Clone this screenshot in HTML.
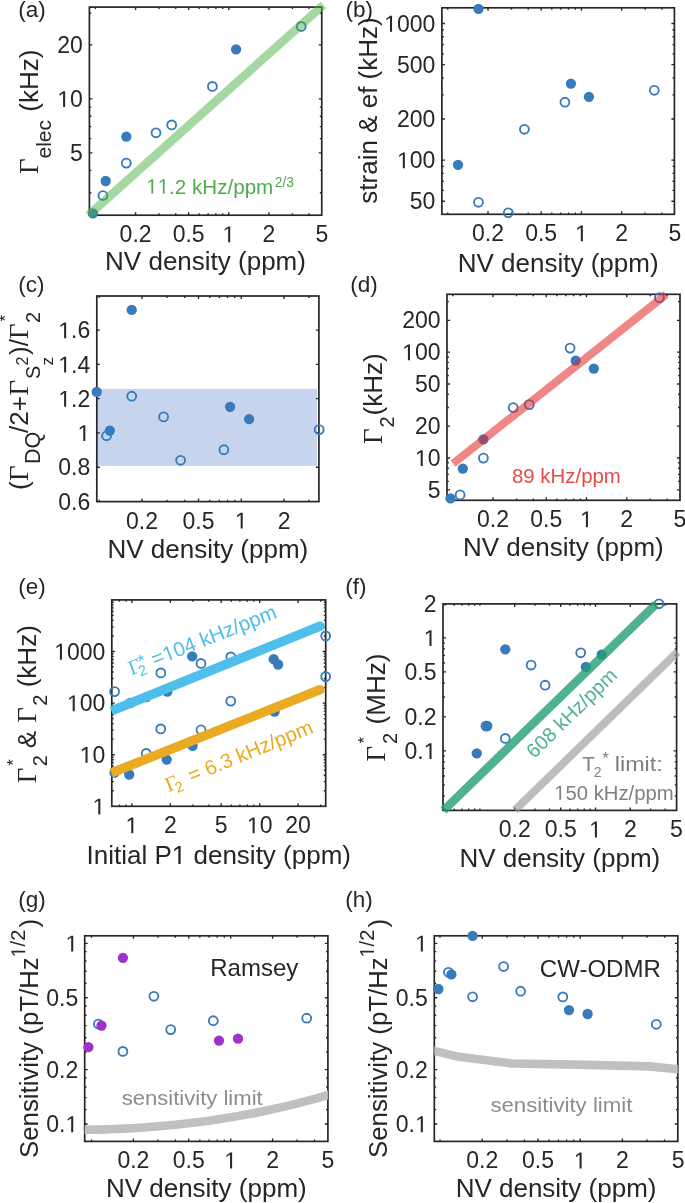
<!DOCTYPE html>
<html><head><meta charset="utf-8"><style>
html,body{margin:0;padding:0;background:#fff;}
svg{display:block;will-change:transform;}
text{font-family:"Liberation Sans",sans-serif;fill:#262626;}
</style></head><body>
<svg width="685" height="1203" viewBox="0 0 685 1203">
<rect width="685" height="1203" fill="#fff"/>
<text x="18.35" y="16.5" text-anchor="start" font-size="22.5" style="fill:#262626" >(a)</text>
<path d="M135.60 215.2v-3.0M135.60 7.1v3.0M188.66 215.2v-3.0M188.66 7.1v3.0M228.80 215.2v-3.0M228.80 7.1v3.0M268.94 215.2v-3.0M268.94 7.1v3.0M95.46 215.2v-1.9M95.46 7.1v1.9M159.08 215.2v-1.9M159.08 7.1v1.9M175.74 215.2v-1.9M175.74 7.1v1.9M199.22 215.2v-1.9M199.22 7.1v1.9M208.15 215.2v-1.9M208.15 7.1v1.9M215.88 215.2v-1.9M215.88 7.1v1.9M222.70 215.2v-1.9M222.70 7.1v1.9M292.42 215.2v-1.9M292.42 7.1v1.9M309.08 215.2v-1.9M309.08 7.1v1.9M89.4 152.90h3.0M321.75 152.90h-3.0M89.4 98.85h3.0M321.75 98.85h-3.0M89.4 44.80h3.0M321.75 44.80h-3.0M89.4 192.73h1.9M321.75 192.73h-1.9M89.4 170.30h1.9M321.75 170.30h-1.9M89.4 138.68h1.9M321.75 138.68h-1.9M89.4 126.66h1.9M321.75 126.66h-1.9M89.4 116.25h1.9M321.75 116.25h-1.9M89.4 107.07h1.9M321.75 107.07h-1.9M89.4 13.18h1.9M321.75 13.18h-1.9" stroke="#262626" stroke-width="1.35" fill="none"/>
<rect x="89.4" y="7.1" width="232.35" height="208.10" fill="none" stroke="#262626" stroke-width="1.7"/>
<text x="135.60" y="242.20" font-size="23" text-anchor="middle">0.2</text>
<text x="188.66" y="242.20" font-size="23" text-anchor="middle">0.5</text>
<path d="M515 0V1237L197 1010V1180L530 1409H696V0Z" transform="matrix(0.01123 0 0 -0.01123 222.40 242.20)" style="fill:#262626"/>
<text x="268.94" y="242.20" font-size="23" text-anchor="middle">2</text>
<text x="322.00" y="242.20" font-size="23" text-anchor="middle">5</text>
<text x="82.90" y="161.06" font-size="23" text-anchor="end">5</text>
<path d="M515 0V1237L197 1010V1180L530 1409H696V0Z" transform="matrix(0.01123 0 0 -0.01123 57.32 107.02)" style="fill:#262626"/><text x="70.11" y="107.02" font-size="23" xml:space="preserve">0</text>
<text x="82.90" y="52.96" font-size="23" text-anchor="end">20</text>
<circle cx="92.9" cy="213.4" r="5.15" style="fill:#377bbb"/>
<circle cx="102.9" cy="195.5" r="4.45" fill="none" style="stroke:#377bbb" stroke-width="1.85"/>
<circle cx="105.7" cy="181" r="5.15" style="fill:#377bbb"/>
<circle cx="126.3" cy="136.6" r="5.15" style="fill:#377bbb"/>
<circle cx="126.3" cy="163.1" r="4.45" fill="none" style="stroke:#377bbb" stroke-width="1.85"/>
<circle cx="156" cy="132.8" r="4.45" fill="none" style="stroke:#377bbb" stroke-width="1.85"/>
<circle cx="171.7" cy="124.9" r="4.45" fill="none" style="stroke:#377bbb" stroke-width="1.85"/>
<circle cx="212.4" cy="86.4" r="4.45" fill="none" style="stroke:#377bbb" stroke-width="1.85"/>
<circle cx="236.1" cy="49.3" r="5.15" style="fill:#377bbb"/>
<circle cx="301.2" cy="26.4" r="4.45" fill="none" style="stroke:#377bbb" stroke-width="1.85"/>
<line x1="88.4" y1="215.2" x2="323.4" y2="4.9" stroke="rgb(75,175,65)" stroke-opacity="0.5" stroke-width="8.6"/>
<path d="M515 0V1237L197 1010V1180L530 1409H696V0Z" transform="matrix(0.01006 0 0 -0.01006 146.20 193.50)" style="fill:rgb(80,170,75)"/><path d="M515 0V1237L197 1010V1180L530 1409H696V0Z" transform="matrix(0.01006 0 0 -0.01006 157.66 193.50)" style="fill:rgb(80,170,75)"/><text x="169.11" y="193.50" font-size="20.6" style="fill:rgb(80,170,75)" xml:space="preserve">.2 kHz/ppm</text>
<text x="274.79033203125" y="187" text-anchor="start" font-size="13.8" style="fill:rgb(80,170,75)" >2/3</text>
<text x="205.5" y="269.8" text-anchor="middle" font-size="26" style="fill:#262626" >NV density (ppm)</text>
<g transform="translate(37.9,173) rotate(-90)">
<text x="-1" y="0" font-size="27" style="font-family:'Liberation Serif',serif">&#915;</text>
<text x="14.5" y="13.3" font-size="21">elec</text>
<text x="61.3" y="0" font-size="26">(kHz)</text>
</g>
<text x="345.4" y="16.5" text-anchor="start" font-size="22.5" style="fill:#262626" >(b)</text>
<path d="M488.00 214.3v-3.0M488.00 7.8v3.0M541.19 214.3v-3.0M541.19 7.8v3.0M581.43 214.3v-3.0M581.43 7.8v3.0M621.66 214.3v-3.0M621.66 7.8v3.0M447.76 214.3v-1.9M447.76 7.8v1.9M511.53 214.3v-1.9M511.53 7.8v1.9M528.23 214.3v-1.9M528.23 7.8v1.9M551.77 214.3v-1.9M551.77 7.8v1.9M560.72 214.3v-1.9M560.72 7.8v1.9M568.47 214.3v-1.9M568.47 7.8v1.9M575.31 214.3v-1.9M575.31 7.8v1.9M645.20 214.3v-1.9M645.20 7.8v1.9M661.90 214.3v-1.9M661.90 7.8v1.9M441.9 201.20h3.0M674.4 201.20h-3.0M441.9 160.08h3.0M674.4 160.08h-3.0M441.9 118.97h3.0M674.4 118.97h-3.0M441.9 64.62h3.0M674.4 64.62h-3.0M441.9 23.50h3.0M674.4 23.50h-3.0M441.9 190.39h1.9M674.4 190.39h-1.9M441.9 181.24h1.9M674.4 181.24h-1.9M441.9 173.32h1.9M674.4 173.32h-1.9M441.9 166.33h1.9M674.4 166.33h-1.9M441.9 94.92h1.9M674.4 94.92h-1.9M441.9 77.85h1.9M674.4 77.85h-1.9M441.9 53.80h1.9M674.4 53.80h-1.9M441.9 44.66h1.9M674.4 44.66h-1.9M441.9 36.74h1.9M674.4 36.74h-1.9M441.9 29.75h1.9M674.4 29.75h-1.9" stroke="#262626" stroke-width="1.35" fill="none"/>
<rect x="441.9" y="7.8" width="232.50" height="206.50" fill="none" stroke="#262626" stroke-width="1.7"/>
<text x="488.00" y="241.30" font-size="23" text-anchor="middle">0.2</text>
<text x="541.19" y="241.30" font-size="23" text-anchor="middle">0.5</text>
<path d="M515 0V1237L197 1010V1180L530 1409H696V0Z" transform="matrix(0.01123 0 0 -0.01123 575.03 241.30)" style="fill:#262626"/>
<text x="621.66" y="241.30" font-size="23" text-anchor="middle">2</text>
<text x="674.85" y="241.30" font-size="23" text-anchor="middle">5</text>
<text x="435.40" y="209.36" font-size="23" text-anchor="end">50</text>
<path d="M515 0V1237L197 1010V1180L530 1409H696V0Z" transform="matrix(0.01123 0 0 -0.01123 397.03 168.25)" style="fill:#262626"/><text x="409.82" y="168.25" font-size="23" xml:space="preserve">00</text>
<text x="435.40" y="127.13" font-size="23" text-anchor="end">200</text>
<text x="435.40" y="72.78" font-size="23" text-anchor="end">500</text>
<path d="M515 0V1237L197 1010V1180L530 1409H696V0Z" transform="matrix(0.01123 0 0 -0.01123 384.23 31.66)" style="fill:#262626"/><text x="397.03" y="31.66" font-size="23" xml:space="preserve">000</text>
<circle cx="478.5" cy="8.8" r="5.15" style="fill:#377bbb"/>
<circle cx="458" cy="164.8" r="5.15" style="fill:#377bbb"/>
<circle cx="478.5" cy="202.3" r="4.45" fill="none" style="stroke:#377bbb" stroke-width="1.85"/>
<circle cx="508.3" cy="212.8" r="4.45" fill="none" style="stroke:#377bbb" stroke-width="1.85"/>
<circle cx="524.4" cy="129.3" r="4.45" fill="none" style="stroke:#377bbb" stroke-width="1.85"/>
<circle cx="564.9" cy="102.2" r="4.45" fill="none" style="stroke:#377bbb" stroke-width="1.85"/>
<circle cx="570.9" cy="83.6" r="5.15" style="fill:#377bbb"/>
<circle cx="588.9" cy="96.8" r="5.15" style="fill:#377bbb"/>
<circle cx="654.3" cy="90.3" r="4.45" fill="none" style="stroke:#377bbb" stroke-width="1.85"/>
<text x="558.2" y="271.5" text-anchor="middle" font-size="26" style="fill:#262626" >NV density (ppm)</text>
<g transform="translate(376.6,202.7) rotate(-90)">
<text x="-1" y="0" font-size="26">strain &amp; ef (kHz)</text>
</g>
<text x="18.35" y="291.8" text-anchor="start" font-size="22.5" style="fill:#262626" >(c)</text>
<rect x="96.8" y="388.9" width="220.39999999999998" height="77.0" fill="rgb(198,212,237)"/>
<path d="M142.00 501.6v-3.0M142.00 296v3.0M198.53 501.6v-3.0M198.53 296v3.0M241.29 501.6v-3.0M241.29 296v3.0M284.05 501.6v-3.0M284.05 296v3.0M99.24 501.6v-1.9M99.24 296v1.9M167.01 501.6v-1.9M167.01 296v1.9M184.76 501.6v-1.9M184.76 296v1.9M209.78 501.6v-1.9M209.78 296v1.9M219.28 501.6v-1.9M219.28 296v1.9M227.52 501.6v-1.9M227.52 296v1.9M234.79 501.6v-1.9M234.79 296v1.9M309.06 501.6v-1.9M309.06 296v1.9M96.8 467.20h3.0M318.9 467.20h-3.0M96.8 432.93h3.0M318.9 432.93h-3.0M96.8 398.65h3.0M318.9 398.65h-3.0M96.8 364.38h3.0M318.9 364.38h-3.0M96.8 330.10h3.0M318.9 330.10h-3.0" stroke="#262626" stroke-width="1.35" fill="none"/>
<rect x="96.8" y="296" width="222.10" height="205.60" fill="none" stroke="#262626" stroke-width="1.7"/>
<text x="142.00" y="528.60" font-size="23" text-anchor="middle">0.2</text>
<text x="198.53" y="528.60" font-size="23" text-anchor="middle">0.5</text>
<path d="M515 0V1237L197 1010V1180L530 1409H696V0Z" transform="matrix(0.01123 0 0 -0.01123 234.89 528.60)" style="fill:#262626"/>
<text x="284.05" y="528.60" font-size="23" text-anchor="middle">2</text>
<text x="90.30" y="509.64" font-size="23" text-anchor="end">0.6</text>
<text x="90.30" y="475.37" font-size="23" text-anchor="end">0.8</text>
<path d="M515 0V1237L197 1010V1180L530 1409H696V0Z" transform="matrix(0.01123 0 0 -0.01123 77.51 441.09)" style="fill:#262626"/>
<path d="M515 0V1237L197 1010V1180L530 1409H696V0Z" transform="matrix(0.01123 0 0 -0.01123 58.33 406.82)" style="fill:#262626"/><text x="71.12" y="406.82" font-size="23" xml:space="preserve">.2</text>
<path d="M515 0V1237L197 1010V1180L530 1409H696V0Z" transform="matrix(0.01123 0 0 -0.01123 58.33 372.54)" style="fill:#262626"/><text x="71.12" y="372.54" font-size="23" xml:space="preserve">.4</text>
<path d="M515 0V1237L197 1010V1180L530 1409H696V0Z" transform="matrix(0.01123 0 0 -0.01123 58.33 338.27)" style="fill:#262626"/><text x="71.12" y="338.27" font-size="23" xml:space="preserve">.6</text>
<circle cx="96.7" cy="391.9" r="5.15" style="fill:#377bbb"/>
<circle cx="109.8" cy="430.6" r="5.15" style="fill:#377bbb"/>
<circle cx="106.6" cy="435.8" r="4.45" fill="none" style="stroke:#377bbb" stroke-width="1.85"/>
<circle cx="131.7" cy="309.9" r="5.15" style="fill:#377bbb"/>
<circle cx="131.7" cy="396.2" r="4.45" fill="none" style="stroke:#377bbb" stroke-width="1.85"/>
<circle cx="163.6" cy="416.9" r="4.45" fill="none" style="stroke:#377bbb" stroke-width="1.85"/>
<circle cx="180.6" cy="460.3" r="4.45" fill="none" style="stroke:#377bbb" stroke-width="1.85"/>
<circle cx="223.9" cy="449.7" r="4.45" fill="none" style="stroke:#377bbb" stroke-width="1.85"/>
<circle cx="230.1" cy="406.8" r="5.15" style="fill:#377bbb"/>
<circle cx="249.1" cy="419.1" r="5.15" style="fill:#377bbb"/>
<circle cx="319.2" cy="429.6" r="4.45" fill="none" style="stroke:#377bbb" stroke-width="1.85"/>
<text x="207.85" y="557.6" text-anchor="middle" font-size="26" style="fill:#262626" >NV density (ppm)</text>
<g transform="translate(28,489) rotate(-90)">
<text x="-1" y="0" font-size="26">(</text>
<text x="8" y="0" font-size="27" style="font-family:'Liberation Serif',serif">&#915;</text>
<text x="25" y="12.3" font-size="21.5">DQ</text>
<text x="56" y="0" font-size="26">/2+</text>
<text x="93.5" y="0" font-size="27" style="font-family:'Liberation Serif',serif">&#915;</text>
<text x="110" y="12.3" font-size="20">S</text>
<text x="123.5" y="-0.4" font-size="16">2</text>
<text x="123.5" y="25" font-size="17">z</text>
<text x="134" y="0" font-size="26">)/</text>
<text x="150" y="0" font-size="27" style="font-family:'Liberation Serif',serif">&#915;</text>
<text x="166" y="12.3" font-size="20">2</text>
<text x="167.5" y="-17" font-size="17">*</text>
</g>
<text x="350.2" y="291.8" text-anchor="start" font-size="22.5" style="fill:#262626" >(d)</text>
<path d="M493.04 500.3v-3.0M493.04 294.3v3.0M546.25 500.3v-3.0M546.25 294.3v3.0M586.50 500.3v-3.0M586.50 294.3v3.0M626.75 500.3v-3.0M626.75 294.3v3.0M452.79 500.3v-1.9M452.79 294.3v1.9M516.59 500.3v-1.9M516.59 294.3v1.9M533.29 500.3v-1.9M533.29 294.3v1.9M556.84 500.3v-1.9M556.84 294.3v1.9M565.79 500.3v-1.9M565.79 294.3v1.9M573.54 500.3v-1.9M573.54 294.3v1.9M580.38 500.3v-1.9M580.38 294.3v1.9M650.29 500.3v-1.9M650.29 294.3v1.9M667.00 500.3v-1.9M667.00 294.3v1.9M447.0 489.80h3.0M680.0 489.80h-3.0M447.0 457.95h3.0M680.0 457.95h-3.0M447.0 426.10h3.0M680.0 426.10h-3.0M447.0 384.00h3.0M680.0 384.00h-3.0M447.0 352.15h3.0M680.0 352.15h-3.0M447.0 320.30h3.0M680.0 320.30h-3.0M447.0 481.42h1.9M680.0 481.42h-1.9M447.0 474.34h1.9M680.0 474.34h-1.9M447.0 468.20h1.9M680.0 468.20h-1.9M447.0 462.79h1.9M680.0 462.79h-1.9M447.0 407.47h1.9M680.0 407.47h-1.9M447.0 394.25h1.9M680.0 394.25h-1.9M447.0 375.62h1.9M680.0 375.62h-1.9M447.0 368.54h1.9M680.0 368.54h-1.9M447.0 362.40h1.9M680.0 362.40h-1.9M447.0 356.99h1.9M680.0 356.99h-1.9M447.0 301.67h1.9M680.0 301.67h-1.9" stroke="#262626" stroke-width="1.35" fill="none"/>
<rect x="447.0" y="294.3" width="233.00" height="206.00" fill="none" stroke="#262626" stroke-width="1.7"/>
<text x="493.04" y="527.30" font-size="23" text-anchor="middle">0.2</text>
<text x="546.25" y="527.30" font-size="23" text-anchor="middle">0.5</text>
<path d="M515 0V1237L197 1010V1180L530 1409H696V0Z" transform="matrix(0.01123 0 0 -0.01123 580.10 527.30)" style="fill:#262626"/>
<text x="626.75" y="527.30" font-size="23" text-anchor="middle">2</text>
<text x="679.96" y="527.30" font-size="23" text-anchor="middle">5</text>
<text x="440.50" y="497.97" font-size="23" text-anchor="end">5</text>
<path d="M515 0V1237L197 1010V1180L530 1409H696V0Z" transform="matrix(0.01123 0 0 -0.01123 414.92 466.12)" style="fill:#262626"/><text x="427.71" y="466.12" font-size="23" xml:space="preserve">0</text>
<text x="440.50" y="434.27" font-size="23" text-anchor="end">20</text>
<text x="440.50" y="392.16" font-size="23" text-anchor="end">50</text>
<path d="M515 0V1237L197 1010V1180L530 1409H696V0Z" transform="matrix(0.01123 0 0 -0.01123 402.13 360.31)" style="fill:#262626"/><text x="414.92" y="360.31" font-size="23" xml:space="preserve">00</text>
<text x="440.50" y="328.46" font-size="23" text-anchor="end">200</text>
<circle cx="450.5" cy="498.4" r="5.15" style="fill:#377bbb"/>
<circle cx="460.1" cy="494.9" r="4.45" fill="none" style="stroke:#377bbb" stroke-width="1.85"/>
<circle cx="462.8" cy="468.6" r="5.15" style="fill:#377bbb"/>
<circle cx="483.4" cy="439.3" r="5.15" style="fill:#377bbb"/>
<circle cx="483.4" cy="458.1" r="4.45" fill="none" style="stroke:#377bbb" stroke-width="1.85"/>
<circle cx="513.2" cy="407.6" r="4.45" fill="none" style="stroke:#377bbb" stroke-width="1.85"/>
<circle cx="529.3" cy="404.6" r="4.45" fill="none" style="stroke:#377bbb" stroke-width="1.85"/>
<circle cx="570.1" cy="348.1" r="4.45" fill="none" style="stroke:#377bbb" stroke-width="1.85"/>
<circle cx="575.7" cy="360.7" r="5.15" style="fill:#377bbb"/>
<circle cx="593.8" cy="368.6" r="5.15" style="fill:#377bbb"/>
<circle cx="659.4" cy="297.7" r="4.45" fill="none" style="stroke:#377bbb" stroke-width="1.85"/>
<line x1="453.1" y1="463.7" x2="666" y2="294.5" stroke="rgb(228,41,41)" stroke-opacity="0.56" stroke-width="8"/>
<text x="512" y="482.6" text-anchor="start" font-size="20.4" style="fill:rgb(228,75,75)" >89 kHz/ppm</text>
<text x="563.35" y="555.7" text-anchor="middle" font-size="26" style="fill:#262626" >NV density (ppm)</text>
<g transform="translate(381.8,442.9) rotate(-90)">
<text x="-1" y="0" font-size="27" style="font-family:'Liberation Serif',serif">&#915;</text>
<text x="15.5" y="12.5" font-size="20">2</text>
<text x="27.5" y="0" font-size="26">(kHz)</text>
</g>
<text x="18.35" y="593.6" text-anchor="start" font-size="22.5" style="fill:#262626" >(e)</text>
<path d="M131.86 806.3v-3.0M131.86 599.9v3.0M170.33 806.3v-3.0M170.33 599.9v3.0M221.17 806.3v-3.0M221.17 599.9v3.0M259.64 806.3v-3.0M259.64 599.9v3.0M298.10 806.3v-3.0M298.10 599.9v3.0M119.48 806.3v-1.9M119.48 599.9v1.9M126.01 806.3v-1.9M126.01 599.9v1.9M192.83 806.3v-1.9M192.83 599.9v1.9M208.79 806.3v-1.9M208.79 599.9v1.9M231.29 806.3v-1.9M231.29 599.9v1.9M239.84 806.3v-1.9M239.84 599.9v1.9M247.25 806.3v-1.9M247.25 599.9v1.9M253.79 806.3v-1.9M253.79 599.9v1.9M320.60 806.3v-1.9M320.60 599.9v1.9M111.8 754.70h3.0M325.7 754.70h-3.0M111.8 703.10h3.0M325.7 703.10h-3.0M111.8 651.50h3.0M325.7 651.50h-3.0M111.8 790.77h1.9M325.7 790.77h-1.9M111.8 781.68h1.9M325.7 781.68h-1.9M111.8 775.23h1.9M325.7 775.23h-1.9M111.8 770.23h1.9M325.7 770.23h-1.9M111.8 766.15h1.9M325.7 766.15h-1.9M111.8 762.69h1.9M325.7 762.69h-1.9M111.8 759.70h1.9M325.7 759.70h-1.9M111.8 757.06h1.9M325.7 757.06h-1.9M111.8 739.17h1.9M325.7 739.17h-1.9M111.8 730.08h1.9M325.7 730.08h-1.9M111.8 723.63h1.9M325.7 723.63h-1.9M111.8 718.63h1.9M325.7 718.63h-1.9M111.8 714.55h1.9M325.7 714.55h-1.9M111.8 711.09h1.9M325.7 711.09h-1.9M111.8 708.10h1.9M325.7 708.10h-1.9M111.8 705.46h1.9M325.7 705.46h-1.9M111.8 687.57h1.9M325.7 687.57h-1.9M111.8 678.48h1.9M325.7 678.48h-1.9M111.8 672.03h1.9M325.7 672.03h-1.9M111.8 667.03h1.9M325.7 667.03h-1.9M111.8 662.95h1.9M325.7 662.95h-1.9M111.8 659.49h1.9M325.7 659.49h-1.9M111.8 656.50h1.9M325.7 656.50h-1.9M111.8 653.86h1.9M325.7 653.86h-1.9M111.8 635.97h1.9M325.7 635.97h-1.9M111.8 626.88h1.9M325.7 626.88h-1.9M111.8 620.43h1.9M325.7 620.43h-1.9M111.8 615.43h1.9M325.7 615.43h-1.9M111.8 611.35h1.9M325.7 611.35h-1.9M111.8 607.89h1.9M325.7 607.89h-1.9M111.8 604.90h1.9M325.7 604.90h-1.9M111.8 602.26h1.9M325.7 602.26h-1.9" stroke="#262626" stroke-width="1.35" fill="none"/>
<rect x="111.8" y="599.9" width="213.90" height="206.40" fill="none" stroke="#262626" stroke-width="1.7"/>
<path d="M515 0V1237L197 1010V1180L530 1409H696V0Z" transform="matrix(0.01123 0 0 -0.01123 125.47 833.30)" style="fill:#262626"/>
<text x="170.33" y="833.30" font-size="23" text-anchor="middle">2</text>
<text x="221.17" y="833.30" font-size="23" text-anchor="middle">5</text>
<path d="M515 0V1237L197 1010V1180L530 1409H696V0Z" transform="matrix(0.01123 0 0 -0.01123 246.84 833.30)" style="fill:#262626"/><text x="259.64" y="833.30" font-size="23" xml:space="preserve">0</text>
<text x="298.10" y="833.30" font-size="23" text-anchor="middle">20</text>
<path d="M515 0V1237L197 1010V1180L530 1409H696V0Z" transform="matrix(0.01123 0 0 -0.01123 92.51 814.46)" style="fill:#262626"/>
<path d="M515 0V1237L197 1010V1180L530 1409H696V0Z" transform="matrix(0.01123 0 0 -0.01123 79.72 762.86)" style="fill:#262626"/><text x="92.51" y="762.86" font-size="23" xml:space="preserve">0</text>
<path d="M515 0V1237L197 1010V1180L530 1409H696V0Z" transform="matrix(0.01123 0 0 -0.01123 66.93 711.26)" style="fill:#262626"/><text x="79.72" y="711.26" font-size="23" xml:space="preserve">00</text>
<path d="M515 0V1237L197 1010V1180L530 1409H696V0Z" transform="matrix(0.01123 0 0 -0.01123 54.13 659.66)" style="fill:#262626"/><text x="66.93" y="659.66" font-size="23" xml:space="preserve">000</text>
<circle cx="114.6" cy="691.6" r="4.45" fill="none" style="stroke:#377bbb" stroke-width="1.85"/>
<circle cx="130.2" cy="703" r="5.15" style="fill:#377bbb"/>
<circle cx="146.5" cy="697.2" r="5.15" style="fill:#377bbb"/>
<circle cx="167.3" cy="691.6" r="5.15" style="fill:#377bbb"/>
<circle cx="160.8" cy="672.9" r="4.45" fill="none" style="stroke:#377bbb" stroke-width="1.85"/>
<circle cx="192.2" cy="656.4" r="5.15" style="fill:#377bbb"/>
<circle cx="201" cy="663.4" r="4.45" fill="none" style="stroke:#377bbb" stroke-width="1.85"/>
<circle cx="230.8" cy="656.9" r="4.45" fill="none" style="stroke:#377bbb" stroke-width="1.85"/>
<circle cx="273.7" cy="659.2" r="5.15" style="fill:#377bbb"/>
<circle cx="278.1" cy="664.5" r="5.15" style="fill:#377bbb"/>
<circle cx="325.7" cy="635.9" r="4.45" fill="none" style="stroke:#377bbb" stroke-width="1.85"/>
<circle cx="325.7" cy="676.6" r="4.45" fill="none" style="stroke:#377bbb" stroke-width="1.85"/>
<circle cx="230.8" cy="701.1" r="4.45" fill="none" style="stroke:#377bbb" stroke-width="1.85"/>
<circle cx="160.7" cy="728.9" r="4.45" fill="none" style="stroke:#377bbb" stroke-width="1.85"/>
<circle cx="201" cy="729.8" r="4.45" fill="none" style="stroke:#377bbb" stroke-width="1.85"/>
<circle cx="146.2" cy="753.4" r="4.45" fill="none" style="stroke:#377bbb" stroke-width="1.85"/>
<circle cx="166.7" cy="759.6" r="5.15" style="fill:#377bbb"/>
<circle cx="192.6" cy="745.9" r="5.15" style="fill:#377bbb"/>
<circle cx="129.2" cy="774.5" r="5.15" style="fill:#377bbb"/>
<circle cx="114.5" cy="772.7" r="5.15" style="fill:#377bbb"/>
<circle cx="274.6" cy="711.5" r="5.15" style="fill:#377bbb"/>
<path d="M111.5 710.8L320.1 626.2" stroke="rgb(80,190,235)" stroke-width="9.4"/>
<circle cx="320.1" cy="626.2" r="4.7" fill="rgb(80,190,235)"/>
<path d="M111.35 772.95L320.1 689.6" stroke="rgb(235,170,35)" stroke-width="9.4"/>
<circle cx="320.1" cy="689.6" r="4.7" fill="rgb(235,170,35)"/>
<g transform="translate(131.5,675.4) rotate(-21.5)">
<text x="0" y="0" font-size="21" style="font-family:'Liberation Serif',serif;fill:rgb(80,190,235)">&#915;</text>
<text x="8.2" y="4.3" font-size="14.5" style=";fill:rgb(80,190,235)">2</text>
<text x="11.8" y="-4.5" font-size="17" style=";fill:rgb(80,190,235)">*</text>
<text x="25.00" y="0.00" font-size="20.5" style=";fill:rgb(80,190,235)" xml:space="preserve">=</text><path d="M515 0V1237L197 1010V1180L530 1409H696V0Z" transform="matrix(0.01001 0 0 -0.01001 36.97 0.00)" style="fill:rgb(80,190,235)"/><text x="48.37" y="0.00" font-size="20.5" style=";fill:rgb(80,190,235)" xml:space="preserve">04 kHz/ppm</text>
</g>
<g transform="translate(168.4,792.2) rotate(-22.2)">
<text x="0" y="0" font-size="21" style="font-family:'Liberation Serif',serif;fill:rgb(235,170,35)">&#915;</text>
<text x="8.2" y="4.3" font-size="14.5" style=";fill:rgb(235,170,35)">2</text>
<text x="25" y="0" font-size="20.5" style=";fill:rgb(235,170,35)">= 6.3 kHz/ppm</text>
</g>
<text x="86.53" y="864.00" font-size="26" style="fill:#262626" xml:space="preserve">Initial P</text><path d="M515 0V1237L197 1010V1180L530 1409H696V0Z" transform="matrix(0.01270 0 0 -0.01270 171.79 864.00)" style="fill:#262626"/><text x="186.25" y="864.00" font-size="26" style="fill:#262626" xml:space="preserve"> density (ppm)</text>
<g transform="translate(35.9,782.3) rotate(-90)">
<text x="-1" y="0" font-size="27" style="font-family:'Liberation Serif',serif">&#915;</text>
<text x="16" y="11.2" font-size="20">2</text>
<text x="16.5" y="-16.5" font-size="17">*</text>
<text x="34" y="0" font-size="26">&amp;</text>
<text x="59.5" y="0" font-size="27" style="font-family:'Liberation Serif',serif">&#915;</text>
<text x="76.5" y="11.2" font-size="20">2</text>
<text x="95" y="0" font-size="26">(kHz)</text>
</g>
<text x="345.2" y="593.6" text-anchor="start" font-size="22.5" style="fill:#262626" >(f)</text>
<path d="M514.70 810.4v-3.0M514.70 603.9v3.0M560.70 810.4v-3.0M560.70 603.9v3.0M595.50 810.4v-3.0M595.50 603.9v3.0M630.30 810.4v-3.0M630.30 603.9v3.0M445.10 810.4v-1.9M445.10 603.9v1.9M454.25 810.4v-1.9M454.25 603.9v1.9M461.99 810.4v-1.9M461.99 603.9v1.9M468.69 810.4v-1.9M468.69 603.9v1.9M474.61 810.4v-1.9M474.61 603.9v1.9M479.90 810.4v-1.9M479.90 603.9v1.9M535.05 810.4v-1.9M535.05 603.9v1.9M549.50 810.4v-1.9M549.50 603.9v1.9M569.85 810.4v-1.9M569.85 603.9v1.9M577.59 810.4v-1.9M577.59 603.9v1.9M584.30 810.4v-1.9M584.30 603.9v1.9M590.21 810.4v-1.9M590.21 603.9v1.9M650.66 810.4v-1.9M650.66 603.9v1.9M665.10 810.4v-1.9M665.10 603.9v1.9M443.0 750.90h3.0M676.6 750.90h-3.0M443.0 716.89h3.0M676.6 716.89h-3.0M443.0 671.93h3.0M676.6 671.93h-3.0M443.0 637.91h3.0M676.6 637.91h-3.0M443.0 795.86h1.9M676.6 795.86h-1.9M443.0 784.91h1.9M676.6 784.91h-1.9M443.0 775.97h1.9M676.6 775.97h-1.9M443.0 768.40h1.9M676.6 768.40h-1.9M443.0 761.85h1.9M676.6 761.85h-1.9M443.0 756.07h1.9M676.6 756.07h-1.9M443.0 696.99h1.9M676.6 696.99h-1.9M443.0 682.87h1.9M676.6 682.87h-1.9M443.0 662.98h1.9M676.6 662.98h-1.9M443.0 655.41h1.9M676.6 655.41h-1.9M443.0 648.86h1.9M676.6 648.86h-1.9M443.0 643.08h1.9M676.6 643.08h-1.9" stroke="#262626" stroke-width="1.35" fill="none"/>
<rect x="443.0" y="603.9" width="233.60" height="206.50" fill="none" stroke="#262626" stroke-width="1.7"/>
<text x="514.70" y="837.40" font-size="23" text-anchor="middle">0.2</text>
<text x="560.70" y="837.40" font-size="23" text-anchor="middle">0.5</text>
<path d="M515 0V1237L197 1010V1180L530 1409H696V0Z" transform="matrix(0.01123 0 0 -0.01123 589.10 837.40)" style="fill:#262626"/>
<text x="630.30" y="837.40" font-size="23" text-anchor="middle">2</text>
<text x="676.30" y="837.40" font-size="23" text-anchor="middle">5</text>
<text x="404.53" y="759.06" font-size="23" xml:space="preserve">0.</text><path d="M515 0V1237L197 1010V1180L530 1409H696V0Z" transform="matrix(0.01123 0 0 -0.01123 423.71 759.06)" style="fill:#262626"/>
<text x="436.50" y="725.05" font-size="23" text-anchor="end">0.2</text>
<text x="436.50" y="680.09" font-size="23" text-anchor="end">0.5</text>
<path d="M515 0V1237L197 1010V1180L530 1409H696V0Z" transform="matrix(0.01123 0 0 -0.01123 423.71 646.08)" style="fill:#262626"/>
<text x="436.50" y="612.06" font-size="23" text-anchor="end">2</text>
<circle cx="476.8" cy="753.3" r="5.15" style="fill:#377bbb"/>
<circle cx="485.9" cy="726" r="4.45" fill="none" style="stroke:#377bbb" stroke-width="1.85"/>
<circle cx="487.3" cy="726" r="5.15" style="fill:#377bbb"/>
<circle cx="505.3" cy="738.4" r="4.45" fill="none" style="stroke:#377bbb" stroke-width="1.85"/>
<circle cx="505.3" cy="649.3" r="5.15" style="fill:#377bbb"/>
<circle cx="531.1" cy="665" r="4.45" fill="none" style="stroke:#377bbb" stroke-width="1.85"/>
<circle cx="545.1" cy="685.2" r="4.45" fill="none" style="stroke:#377bbb" stroke-width="1.85"/>
<circle cx="580.7" cy="652.8" r="4.45" fill="none" style="stroke:#377bbb" stroke-width="1.85"/>
<circle cx="585.9" cy="666.8" r="5.15" style="fill:#377bbb"/>
<circle cx="601.7" cy="654.6" r="5.15" style="fill:#377bbb"/>
<circle cx="659" cy="603.8" r="4.45" fill="none" style="stroke:#377bbb" stroke-width="1.85"/>
<line x1="443.5" y1="810.5" x2="656" y2="604.2" stroke="rgb(34,159,114)" stroke-opacity="0.8" stroke-width="8.6"/>
<defs><clipPath id="cf"><rect x="443" y="603.9" width="233.6" height="206.5"/></clipPath></defs>
<line x1="514.9" y1="810.2" x2="677.6" y2="651.9" stroke="rgb(150,150,150)" stroke-opacity="0.63" stroke-width="8"/>
<g transform="translate(576.3,717.8) rotate(-44.6)"><text x="0" y="0" text-anchor="middle" font-size="20" style="fill:rgb(78,178,142)">608 kHz/ppm</text></g>
<text x="582.3" y="770.9" font-size="20.5" style="fill:#808080">T<tspan font-size="14" dx="-1" dy="6">2</tspan><tspan font-size="17" dx="0.5" dy="-13">*</tspan></text>
<text x="614.8" y="770.9" font-size="20.5" style="fill:#808080" textLength="48" lengthAdjust="spacingAndGlyphs">limit:</text>
<path d="M515 0V1237L197 1010V1180L530 1409H696V0Z" transform="matrix(0.00991 0 0 -0.00991 554.20 799.80)" style="fill:#808080"/><text x="565.49" y="799.80" font-size="20.3" style="fill:#808080" xml:space="preserve">50 kHz/ppm</text>
<text x="559.8" y="867.3" text-anchor="middle" font-size="26" style="fill:#262626" >NV density (ppm)</text>
<g transform="translate(385.2,760.4) rotate(-90)">
<text x="-1" y="0" font-size="27" style="font-family:'Liberation Serif',serif">&#915;</text>
<text x="16.5" y="12" font-size="20">2</text>
<text x="16.8" y="-15.4" font-size="17">*</text>
<text x="36" y="0" font-size="26">(MHz)</text>
</g>
<text x="18.35" y="906.6" text-anchor="start" font-size="22.5" style="fill:#262626" >(g)</text>
<path d="M133.41 1141.4v-3.0M133.41 935.8v3.0M188.80 1141.4v-3.0M188.80 935.8v3.0M230.70 1141.4v-3.0M230.70 935.8v3.0M272.60 1141.4v-3.0M272.60 935.8v3.0M91.51 1141.4v-1.9M91.51 935.8v1.9M157.92 1141.4v-1.9M157.92 935.8v1.9M175.31 1141.4v-1.9M175.31 935.8v1.9M199.82 1141.4v-1.9M199.82 935.8v1.9M209.14 1141.4v-1.9M209.14 935.8v1.9M217.21 1141.4v-1.9M217.21 935.8v1.9M224.33 1141.4v-1.9M224.33 935.8v1.9M297.11 1141.4v-1.9M297.11 935.8v1.9M314.50 1141.4v-1.9M314.50 935.8v1.9M84.7 1124.00h3.0M327.9 1124.00h-3.0M84.7 1069.60h3.0M327.9 1069.60h-3.0M84.7 997.70h3.0M327.9 997.70h-3.0M84.7 943.30h3.0M327.9 943.30h-3.0M84.7 1109.69h1.9M327.9 1109.69h-1.9M84.7 1097.59h1.9M327.9 1097.59h-1.9M84.7 1087.12h1.9M327.9 1087.12h-1.9M84.7 1077.87h1.9M327.9 1077.87h-1.9M84.7 1052.09h1.9M327.9 1052.09h-1.9M84.7 1037.78h1.9M327.9 1037.78h-1.9M84.7 1025.69h1.9M327.9 1025.69h-1.9M84.7 1015.21h1.9M327.9 1015.21h-1.9M84.7 1005.96h1.9M327.9 1005.96h-1.9M84.7 983.39h1.9M327.9 983.39h-1.9M84.7 971.29h1.9M327.9 971.29h-1.9M84.7 960.81h1.9M327.9 960.81h-1.9M84.7 951.57h1.9M327.9 951.57h-1.9" stroke="#262626" stroke-width="1.35" fill="none"/>
<rect x="84.7" y="935.8" width="243.20" height="205.60" fill="none" stroke="#262626" stroke-width="1.7"/>
<text x="133.41" y="1168.40" font-size="23" text-anchor="middle">0.2</text>
<text x="188.80" y="1168.40" font-size="23" text-anchor="middle">0.5</text>
<path d="M515 0V1237L197 1010V1180L530 1409H696V0Z" transform="matrix(0.01123 0 0 -0.01123 224.30 1168.40)" style="fill:#262626"/>
<text x="272.60" y="1168.40" font-size="23" text-anchor="middle">2</text>
<text x="327.99" y="1168.40" font-size="23" text-anchor="middle">5</text>
<text x="46.23" y="1132.16" font-size="23" xml:space="preserve">0.</text><path d="M515 0V1237L197 1010V1180L530 1409H696V0Z" transform="matrix(0.01123 0 0 -0.01123 65.41 1132.16)" style="fill:#262626"/>
<text x="78.20" y="1077.77" font-size="23" text-anchor="end">0.2</text>
<text x="78.20" y="1005.86" font-size="23" text-anchor="end">0.5</text>
<path d="M515 0V1237L197 1010V1180L530 1409H696V0Z" transform="matrix(0.01123 0 0 -0.01123 65.41 951.46)" style="fill:#262626"/>
<defs><clipPath id="cg"><rect x="84.7" y="935.8" width="243.2" height="205.6"/></clipPath></defs>
<path clip-path="url(#cg)" d="M80.0 1129.90 L88.7 1129.79 L97.4 1129.62 L106.1 1129.37 L114.8 1129.06 L123.4 1128.67 L132.1 1128.21 L140.8 1127.67 L149.5 1127.06 L158.2 1126.36 L166.9 1125.59 L175.6 1124.74 L184.3 1123.80 L193.0 1122.78 L201.7 1121.68 L210.3 1120.49 L219.0 1119.20 L227.7 1117.83 L236.4 1116.37 L245.1 1114.81 L253.8 1113.16 L262.5 1111.42 L271.2 1109.57 L279.9 1107.63 L288.6 1105.58 L297.2 1103.44 L305.9 1101.19 L314.6 1098.84 L323.3 1096.38 L332.0 1093.81" stroke="#c0c0c0" stroke-width="8.6" fill="none"/>
<circle cx="88.4" cy="1047.2" r="5.15" style="fill:rgb(155,50,205)"/>
<circle cx="98.4" cy="1024" r="4.45" fill="none" style="stroke:#377bbb" stroke-width="1.85"/>
<circle cx="101.5" cy="1025.6" r="5.15" style="fill:rgb(155,50,205)"/>
<circle cx="122.9" cy="1051.4" r="4.45" fill="none" style="stroke:#377bbb" stroke-width="1.85"/>
<circle cx="122.9" cy="957.8" r="5.15" style="fill:rgb(155,50,205)"/>
<circle cx="153.9" cy="996.3" r="4.45" fill="none" style="stroke:#377bbb" stroke-width="1.85"/>
<circle cx="170.7" cy="1029.6" r="4.45" fill="none" style="stroke:#377bbb" stroke-width="1.85"/>
<circle cx="213.3" cy="1020.7" r="4.45" fill="none" style="stroke:#377bbb" stroke-width="1.85"/>
<circle cx="219" cy="1040.6" r="5.15" style="fill:rgb(155,50,205)"/>
<circle cx="238" cy="1038.7" r="5.15" style="fill:rgb(155,50,205)"/>
<circle cx="306.7" cy="1018.2" r="4.45" fill="none" style="stroke:#377bbb" stroke-width="1.85"/>
<text x="254.3" y="976.1" text-anchor="middle" font-size="24" style="fill:#262626" >Ramsey</text>
<text x="192.2" y="1104.5" text-anchor="middle" font-size="20" style="fill:#8c8c8c" textLength="141" lengthAdjust="spacingAndGlyphs">sensitivity limit</text>
<text x="206.3" y="1196.5" text-anchor="middle" font-size="26" style="fill:#262626" >NV density (ppm)</text>
<g transform="translate(37.8,1157) rotate(-90)">
<text x="-1" y="0" font-size="25.8">Sensitivity (pT/Hz</text>
<path d="M515 0V1237L197 1010V1180L530 1409H696V0Z" transform="matrix(0.00977 0 0 -0.00977 199.50 -12.60)" style="fill:#262626"/><text x="210.62" y="-12.60" font-size="20" xml:space="preserve">/2</text>
<text x="229.5" y="0" font-size="26">)</text>
</g>
<text x="345.2" y="906.6" text-anchor="start" font-size="22.5" style="fill:#262626" >(h)</text>
<path d="M482.21 1141.4v-3.0M482.21 935.8v3.0M538.00 1141.4v-3.0M538.00 935.8v3.0M580.20 1141.4v-3.0M580.20 935.8v3.0M622.40 1141.4v-3.0M622.40 935.8v3.0M440.01 1141.4v-1.9M440.01 935.8v1.9M506.90 1141.4v-1.9M506.90 935.8v1.9M524.41 1141.4v-1.9M524.41 935.8v1.9M549.10 1141.4v-1.9M549.10 935.8v1.9M558.49 1141.4v-1.9M558.49 935.8v1.9M566.61 1141.4v-1.9M566.61 935.8v1.9M573.79 1141.4v-1.9M573.79 935.8v1.9M647.09 1141.4v-1.9M647.09 935.8v1.9M664.60 1141.4v-1.9M664.60 935.8v1.9M434.3 1124.00h3.0M677.8 1124.00h-3.0M434.3 1069.60h3.0M677.8 1069.60h-3.0M434.3 997.70h3.0M677.8 997.70h-3.0M434.3 943.30h3.0M677.8 943.30h-3.0M434.3 1109.69h1.9M677.8 1109.69h-1.9M434.3 1097.59h1.9M677.8 1097.59h-1.9M434.3 1087.12h1.9M677.8 1087.12h-1.9M434.3 1077.87h1.9M677.8 1077.87h-1.9M434.3 1052.09h1.9M677.8 1052.09h-1.9M434.3 1037.78h1.9M677.8 1037.78h-1.9M434.3 1025.69h1.9M677.8 1025.69h-1.9M434.3 1015.21h1.9M677.8 1015.21h-1.9M434.3 1005.96h1.9M677.8 1005.96h-1.9M434.3 983.39h1.9M677.8 983.39h-1.9M434.3 971.29h1.9M677.8 971.29h-1.9M434.3 960.81h1.9M677.8 960.81h-1.9M434.3 951.57h1.9M677.8 951.57h-1.9" stroke="#262626" stroke-width="1.35" fill="none"/>
<rect x="434.3" y="935.8" width="243.50" height="205.60" fill="none" stroke="#262626" stroke-width="1.7"/>
<text x="482.21" y="1168.40" font-size="23" text-anchor="middle">0.2</text>
<text x="538.00" y="1168.40" font-size="23" text-anchor="middle">0.5</text>
<path d="M515 0V1237L197 1010V1180L530 1409H696V0Z" transform="matrix(0.01123 0 0 -0.01123 573.80 1168.40)" style="fill:#262626"/>
<text x="622.40" y="1168.40" font-size="23" text-anchor="middle">2</text>
<text x="678.19" y="1168.40" font-size="23" text-anchor="middle">5</text>
<text x="395.83" y="1132.16" font-size="23" xml:space="preserve">0.</text><path d="M515 0V1237L197 1010V1180L530 1409H696V0Z" transform="matrix(0.01123 0 0 -0.01123 415.01 1132.16)" style="fill:#262626"/>
<text x="427.80" y="1077.77" font-size="23" text-anchor="end">0.2</text>
<text x="427.80" y="1005.86" font-size="23" text-anchor="end">0.5</text>
<path d="M515 0V1237L197 1010V1180L530 1409H696V0Z" transform="matrix(0.01123 0 0 -0.01123 415.01 951.46)" style="fill:#262626"/>
<defs><clipPath id="ch"><rect x="434.3" y="935.8" width="243.5" height="205.6"/></clipPath></defs>
<path clip-path="url(#ch)" d="M430 1049.9 L455.5 1056.2 L512.1 1063.5 L576 1064.6 L649 1066.4 L682 1069.6" stroke="#c0c0c0" stroke-width="8.6" fill="none" stroke-linejoin="round"/>
<circle cx="438.4" cy="989" r="5.15" style="fill:#377bbb"/>
<circle cx="448.4" cy="972.3" r="4.45" fill="none" style="stroke:#377bbb" stroke-width="1.85"/>
<circle cx="451.4" cy="974.4" r="5.15" style="fill:#377bbb"/>
<circle cx="472.6" cy="935.9" r="5.15" style="fill:#377bbb"/>
<circle cx="472.6" cy="996.8" r="4.45" fill="none" style="stroke:#377bbb" stroke-width="1.85"/>
<circle cx="503.6" cy="966.5" r="4.45" fill="none" style="stroke:#377bbb" stroke-width="1.85"/>
<circle cx="520.6" cy="991.2" r="4.45" fill="none" style="stroke:#377bbb" stroke-width="1.85"/>
<circle cx="562.8" cy="996.9" r="4.45" fill="none" style="stroke:#377bbb" stroke-width="1.85"/>
<circle cx="569" cy="1010.1" r="5.15" style="fill:#377bbb"/>
<circle cx="587.6" cy="1014" r="5.15" style="fill:#377bbb"/>
<circle cx="656.3" cy="1024.3" r="4.45" fill="none" style="stroke:#377bbb" stroke-width="1.85"/>
<text x="600.3" y="977.2" text-anchor="middle" font-size="24" style="fill:#262626" >CW-ODMR</text>
<text x="561.4" y="1111.6" text-anchor="middle" font-size="20" style="fill:#8c8c8c" textLength="142" lengthAdjust="spacingAndGlyphs">sensitivity limit</text>
<text x="556.05" y="1196.5" text-anchor="middle" font-size="26" style="fill:#262626" >NV density (ppm)</text>
<g transform="translate(386.5,1157) rotate(-90)">
<text x="-1" y="0" font-size="25.8">Sensitivity (pT/Hz</text>
<path d="M515 0V1237L197 1010V1180L530 1409H696V0Z" transform="matrix(0.00977 0 0 -0.00977 199.50 -12.60)" style="fill:#262626"/><text x="210.62" y="-12.60" font-size="20" xml:space="preserve">/2</text>
<text x="229.5" y="0" font-size="26">)</text>
</g>
</svg></body></html>
